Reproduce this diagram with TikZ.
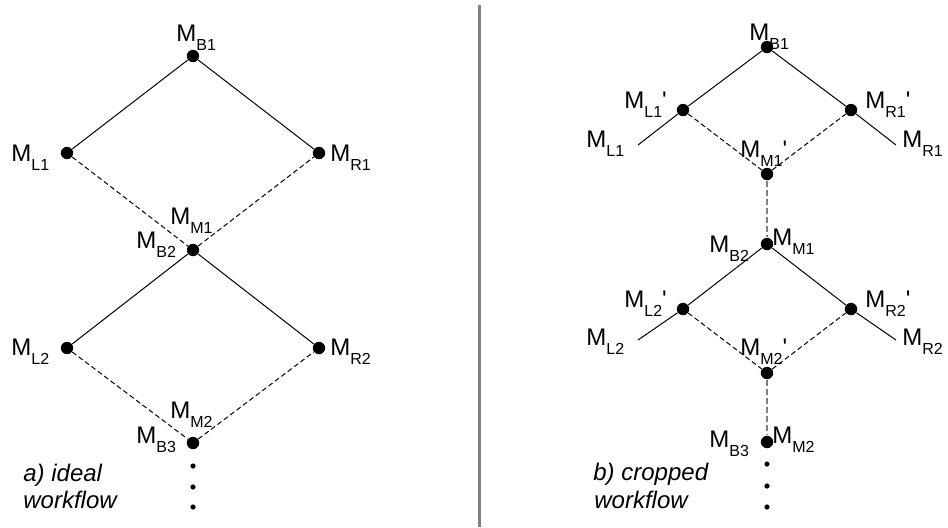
\documentclass[tikz,border=0pt]{standalone}
\usepackage{fontspec}
\setmainfont{Liberation Sans}
\usepackage{tikz}
\newcommand{\msub}[1]{\raisebox{-4.5pt}{\fontsize{8}{9}\selectfont #1}}
\newcommand{\mprime}{\textquotesingle}

\begin{document}
\begin{tikzpicture}[x=0.5pt, y=-0.5pt,
  dot/.style={circle, fill, inner sep=0pt, minimum size=6.2pt},
  smalldot/.style={circle, fill, inner sep=0pt, minimum size=2.6pt},
  lab/.style={anchor=base west, inner sep=0pt, font=\fontsize{12}{14}\selectfont},
  capt/.style={anchor=base west, inner sep=0pt, font=\fontsize{12}{14}\selectfont\itshape},
  link/.style={line width=0.5pt},
  crop/.style={line width=0.5pt, dash pattern=on 2.5pt off 1.5pt},
  bridge/.style={line width=1pt, gray, dash pattern=on 3pt off 1.5pt}]
\useasboundingbox (0,0) rectangle (948,527);
% a) ideal workflow
\node[dot] (aB1) at (193,56) {};
\node[dot] (aL1) at (67,153) {};
\node[dot] (aR1) at (319,153) {};
\node[dot] (aB2) at (193,250) {};
\node[dot] (aL2) at (67,348) {};
\node[dot] (aR2) at (319,348) {};
\node[dot] (aB3) at (193,443) {};
\foreach \y/\n in {466/1,487/2,507/3} {
  \node[smalldot] (ae\n) at (193,\y) {};
}
\draw[link] (aL1) -- (aB1) -- (aR1);
\draw[crop] (aL1) -- (aB2) -- (aR1);
\draw[link] (aL2) -- (aB2) -- (aR2);
\draw[crop] (aL2) -- (aB3) -- (aR2);
\node[lab] (laB1) at (176,41) {M\msub{B1}};
\node[lab] (laL1) at (11,161) {M\msub{L1}};
\node[lab] (laR1) at (330,161) {M\msub{R1}};
\node[lab] (laM1) at (170,224) {M\msub{M1}};
\node[lab] (laB2) at (136,248) {M\msub{B2}};
\node[lab] (laL2) at (11,355) {M\msub{L2}};
\node[lab] (laR2) at (330,355) {M\msub{R2}};
\node[lab] (laM2) at (170,418) {M\msub{M2}};
\node[lab] (laB3) at (136,443) {M\msub{B3}};
\node[capt] (ca1) at (23,481) {a) ideal};
\node[capt] (ca2) at (23,508) {workflow};
% separator
\coordinate (septop) at (479.5,5);
\coordinate (sepbot) at (479.5,527);
\draw[line width=1.25pt, gray] (septop) -- (sepbot);
% b) cropped workflow
\node[dot] (bB1) at (767,47) {};
\node[dot] (bL1p) at (683,110) {};
\node[dot] (bR1p) at (851,110) {};
\coordinate (bL1) at (638,145);
\coordinate (bR1) at (896,145);
\node[dot] (bM1p) at (767,174) {};
\node[dot] (bB2) at (767,244) {};
\node[dot] (bL2p) at (683,309) {};
\node[dot] (bR2p) at (851,309) {};
\coordinate (bL2) at (638,340);
\coordinate (bR2) at (896,340);
\node[dot] (bM2p) at (767,373) {};
\node[dot] (bB3) at (767,442) {};
\foreach \y/\n in {464/1,486/2,507/3} {
  \node[smalldot] (be\n) at (767,\y) {};
}
\draw[link] (bL1) -- (bL1p) -- (bB1) -- (bR1p) -- (bR1);
\draw[crop] (bL1p) -- (bM1p) -- (bR1p);
\draw[bridge] (bM1p) -- (bB2);
\draw[link] (bL2) -- (bL2p) -- (bB2) -- (bR2p) -- (bR2);
\draw[crop] (bL2p) -- (bM2p) -- (bR2p);
\draw[bridge] (bM2p) -- (bB3);
\node[lab] (lbB1) at (749,40) {M\msub{B1}};
\node[lab] (lbL1p) at (624,108) {M\msub{L1}\mprime};
\node[lab] (lbR1p) at (865,108) {M\msub{R1}\mprime};
\node[lab] (lbL1) at (586,147) {M\msub{L1}};
\node[lab] (lbR1) at (902,147) {M\msub{R1}};
\node[lab] (lbM1p) at (740,157) {M\msub{M1}\mprime};
\node[lab] (lbB2) at (709,252) {M\msub{B2}};
\node[lab] (lbM1) at (772,245) {M\msub{M1}};
\node[lab] (lbL2p) at (624,307) {M\msub{L2}\mprime};
\node[lab] (lbR2p) at (865,307) {M\msub{R2}\mprime};
\node[lab] (lbL2) at (586,345) {M\msub{L2}};
\node[lab] (lbR2) at (902,345) {M\msub{R2}};
\node[lab] (lbM2p) at (740,355) {M\msub{M2}\mprime};
\node[lab] (lbB3) at (709,447) {M\msub{B3}};
\node[lab] (lbM2) at (772,443) {M\msub{M2}};
\node[capt] (cb1) at (593,480) {b) cropped};
\node[capt] (cb2) at (594,508) {workflow};
\end{tikzpicture}
\end{document}
